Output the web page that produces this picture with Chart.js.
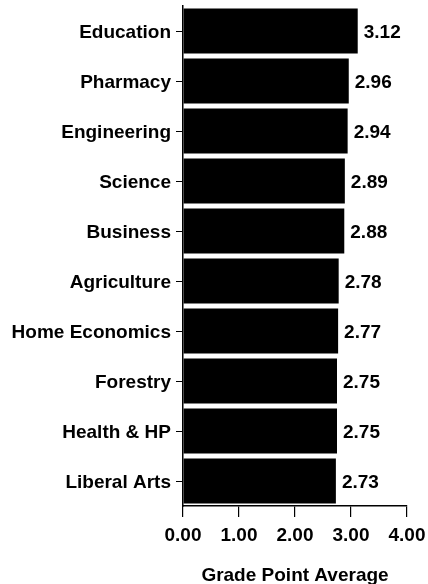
<!DOCTYPE html>
<html>
<head>
<meta charset="utf-8">
<script src="https://cdn.jsdelivr.net/npm/chart.js@4/dist/chart.umd.min.js"></script>
<style>
  html, body { margin: 0; padding: 0; background: #ffffff; }
  #wrap { width: 428px; height: 584px; }
</style>
</head>
<body>
<div id="wrap"><canvas id="c" width="428" height="584"></canvas></div>
<script>
const categories = ["Education", "Pharmacy", "Engineering", "Science", "Business",
  "Agriculture", "Home Economics", "Forestry", "Health & HP", "Liberal Arts"];
const gpaValues = [3.12, 2.96, 2.94, 2.89, 2.88, 2.78, 2.77, 2.75, 2.75, 2.73];
const xTickLabels = ["0.00", "1.00", "2.00", "3.00", "4.00"];
const xAxisTitle = "Grade Point Average";

const FONT = '"Liberation Sans", Arial, Helvetica, sans-serif';

const valueLabels = {
  id: 'valueLabels',
  afterDatasetsDraw(chart) {
    const ctx = chart.ctx;
    const xs = chart.scales.x;
    const meta = chart.getDatasetMeta(0);
    ctx.save();
    ctx.fillStyle = '#000';
    ctx.font = 'bold 19px ' + FONT;
    ctx.textAlign = 'left';
    ctx.textBaseline = 'middle';
    meta.data.forEach((bar, i) => {
      const v = gpaValues[i];
      ctx.fillText(v.toFixed(2), xs.getPixelForValue(v) + 6, bar.y + 2);
    });
    ctx.restore();
  }
};

new Chart(document.getElementById('c'), {
  type: 'bar',
  data: {
    labels: categories,
    datasets: [{
      data: gpaValues,
      backgroundColor: '#000000',
      borderWidth: 0,
      barPercentage: 0.9,
      categoryPercentage: 1.0
    }]
  },
  options: {
    indexAxis: 'y',
    responsive: false,
    animation: false,
    layout: { padding: { top: 6, right: 21, bottom: 0, left: 0 } },
    plugins: { legend: { display: false }, tooltip: { enabled: false }, title: { display: false } },
    scales: {
      x: {
        type: 'linear',
        min: 0,
        max: 4,
        ticks: {
          stepSize: 1,
          color: '#000',
          font: { family: FONT, size: 19, weight: 'bold' },
          padding: 7,
          maxRotation: 0,
          callback: (v, i) => xTickLabels[i]
        },
        grid: { drawOnChartArea: false, drawTicks: true, tickLength: 11, color: '#000', lineWidth: 1.2 },
        border: { display: true, color: '#000', width: 1.5 },
        title: {
          display: true,
          text: xAxisTitle,
          color: '#000',
          font: { family: FONT, size: 19, weight: 'bold', lineHeight: 1 },
          padding: { top: 0, bottom: -1 }
        },
        afterFit(scale) { scale.height = 78; scale.paddingLeft = 0; scale.paddingRight = 0; }
      },
      y: {
        ticks: {
          color: '#000',
          font: { family: FONT, size: 19, weight: 'bold' },
          padding: 5,
          labelOffset: 2,
          autoSkip: false
        },
        grid: { offset: false, drawOnChartArea: false, drawTicks: true, tickLength: 7, color: '#000', lineWidth: 1 },
        border: { display: true, color: '#000', width: 1.5 },
        afterFit(scale) { scale.width = 183; scale.paddingTop = 0; scale.paddingBottom = 0; }
      }
    }
  },
  plugins: [valueLabels]
});
</script>
</body>
</html>
